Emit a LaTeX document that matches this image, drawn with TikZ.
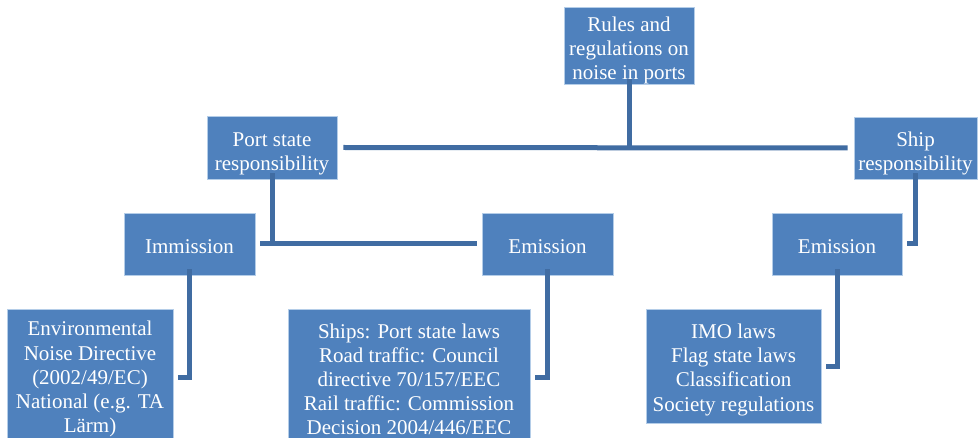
\documentclass[tikz,border=0pt]{standalone}
\usepackage{fontspec}
\setmainfont{Liberation Serif}
\definecolor{boxblue}{RGB}{79,129,189}
\definecolor{lineblue}{RGB}{64,108,162}
\definecolor{edgeblue}{RGB}{180,205,232}
\newcommand\topgap[1]{\rule{0pt}{#1}}
\begin{document}
\begin{tikzpicture}[x=1pt,y=-1pt,
  box/.style={fill=boxblue,draw=edgeblue,line width=0.7pt,inner sep=0pt,align=center,
    text=white,font=\fontsize{21}{24.2}\selectfont},
  conn/.style={draw=lineblue,line width=5pt}]
\useasboundingbox (0,0) rectangle (979,438);
\node[box,minimum width=130,minimum height=72] (rules) at (629,46) {\topgap{24pt}Rules and\\regulations on\\noise in ports};
\node[box,minimum width=130,minimum height=63] (port) at (272,147.5) {\topgap{26pt}Port state\\responsibility};
\node[box,minimum width=123,minimum height=62] (ship) at (915.5,148) {\topgap{26pt}Ship\\responsibility};
\node[box,minimum width=131,minimum height=62] (immi) at (189.5,244) {\topgap{20pt}Immission};
\node[box,minimum width=131,minimum height=62] (emis) at (547.5,244) {\topgap{20pt}Emission};
\node[box,minimum width=130,minimum height=62] (emis2) at (837,244) {\topgap{20pt}Emission};
\node[box,minimum width=166,minimum height=136] (env) at (90,377) {\topgap{19pt}Environmental\\Noise Directive\\(2002/49/EC)\\National (e.g. TA\\Lärm)};
\node[box,minimum width=242,minimum height=136] (laws) at (409,377) {\topgap{19pt}Ships: Port state laws\\Road traffic: Council\\directive 70/157/EEC\\Rail traffic: Commission\\Decision 2004/446/EEC};
\node[box,minimum width=175,minimum height=114] (imo) at (733.5,366) {\topgap{22pt}IMO laws\\Flag state laws\\Classification\\Society regulations};
% connectors
\draw[conn] ([xshift=6]port.east) -- ([xshift=-6]ship.west);
\draw[conn] ([yshift=6]rules.south) -- (rules.south |- port.east);
\draw[conn] ([xshift=5]immi.east) -- ([xshift=-5]emis.west);
\draw[conn] ([yshift=6]port.south) -- (port.south |- immi.east);
\draw[conn] ([yshift=6]ship.south) -- (ship.south |- emis2.east) -- ([xshift=5]emis2.east);
\draw[conn] ([yshift=6]immi.south) -- (immi.south |- env.east) -- ([xshift=5]env.east);
\draw[conn] ([yshift=6]emis.south) -- (emis.south |- laws.east) -- ([xshift=5]laws.east);
\draw[conn] ([yshift=6]emis2.south) -- (emis2.south |- imo.east) -- ([xshift=5]imo.east);
\end{tikzpicture}
\end{document}
